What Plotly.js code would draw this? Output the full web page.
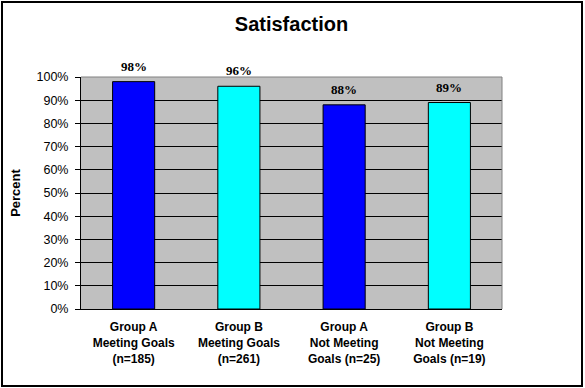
<!DOCTYPE html>
<html>
<head>
<meta charset="utf-8">
<script src="https://cdn.plot.ly/plotly-3.0.1.min.js"></script>
<style>
  html, body { margin: 0; padding: 0; background: #fff; }
  #wrap { position: relative; width: 585px; height: 388px; }
  #chart { position: absolute; left: 0; top: 0; width: 585px; height: 388px; }
  #frame { position: absolute; left: 1px; top: 1px; width: 582px; height: 386px;
           box-sizing: border-box; border: 2px solid #000; pointer-events: none; }
</style>
</head>
<body>
<div id="wrap">
  <div id="chart"></div>
  <div id="frame"></div>
</div>
<script>
// ---- data ----
const categories = [
  "Group A<br>Meeting Goals<br>(n=185)",
  "Group B<br>Meeting Goals<br>(n=261)",
  "Group A<br>Not Meeting<br>Goals (n=25)",
  "Group B<br>Not Meeting<br>Goals (n=19)"
];
const percentValues = [0.98, 0.96, 0.88, 0.89];
const barColors = ["#0000FF", "#00FFFF", "#0000FF", "#00FFFF"];
const yTickValues = [0, 0.1, 0.2, 0.3, 0.4, 0.5, 0.6, 0.7, 0.8, 0.9, 1.0];
const yTickLabels = ["0%", "10%", "20%", "30%", "40%", "50%", "60%", "70%", "80%", "90%", "100%"];
const valueLabels = ["98%", "96%", "88%", "89%"];

const trace = {
  type: "bar",
  x: categories,
  y: percentValues,
  marker: { color: barColors, line: { color: "#000000", width: 1 } },
  hoverinfo: "skip"
};

const annotations = categories.map((c, i) => ({
  x: c, y: percentValues[i], xref: "x", yref: "y",
  text: valueLabels[i], showarrow: false,
  yanchor: "bottom", yshift: 6,
  font: { family: "Liberation Serif, serif", size: 13, color: "#000", weight: "bold" }
}));

const layout = {
  width: 585, height: 388,
  margin: { l: 81, r: 83, t: 77, b: 79, pad: 0 },
  paper_bgcolor: "#FFFFFF",
  plot_bgcolor: "#C0C0C0",
  showlegend: false,
  bargap: 0.6,
  title: {
    text: "<b>Satisfaction</b>",
    x: 0.5, xanchor: "center", xref: "paper",
    y: 1 - 24 / 388, yanchor: "middle", yref: "container",
    font: { family: "Liberation Sans, Arial, sans-serif", size: 20, color: "#000" }
  },
  xaxis: {
    type: "category",
    showgrid: false,
    showline: true, linecolor: "#000", linewidth: 1,
    ticks: "",
    ticklabelstandoff: 7,
    tickfont: { family: "Liberation Sans, Arial, sans-serif", size: 12, color: "#000", weight: "bold" },
    fixedrange: true
  },
  yaxis: {
    range: [0, 1],
    tickvals: yTickValues,
    ticktext: yTickLabels,
    showgrid: true, gridcolor: "#000000", gridwidth: 1,
    zeroline: false,
    showline: true, linecolor: "#000", linewidth: 1,
    ticks: "outside", ticklen: 5, tickcolor: "#000", tickwidth: 1,
    ticklabelstandoff: 4,
    tickfont: { family: "Liberation Sans, Arial, sans-serif", size: 12.5, color: "#000" },
    title: {
      text: "<b>Percent</b>",
      font: { family: "Liberation Sans, Arial, sans-serif", size: 13, color: "#000" },
      standoff: 12
    },
    fixedrange: true
  },
  annotations: annotations,
  shapes: [
    { type: "line", xref: "paper", yref: "paper", x0: 0, x1: 1, y0: 1, y1: 1,
      line: { color: "#808080", width: 1 }, layer: "above" },
    { type: "line", xref: "paper", yref: "paper", x0: 1, x1: 1, y0: 0, y1: 1,
      line: { color: "#808080", width: 1 }, layer: "above" }
  ]
};

Plotly.newPlot("chart", [trace], layout, { displayModeBar: false, staticPlot: true });
</script>
</body>
</html>
